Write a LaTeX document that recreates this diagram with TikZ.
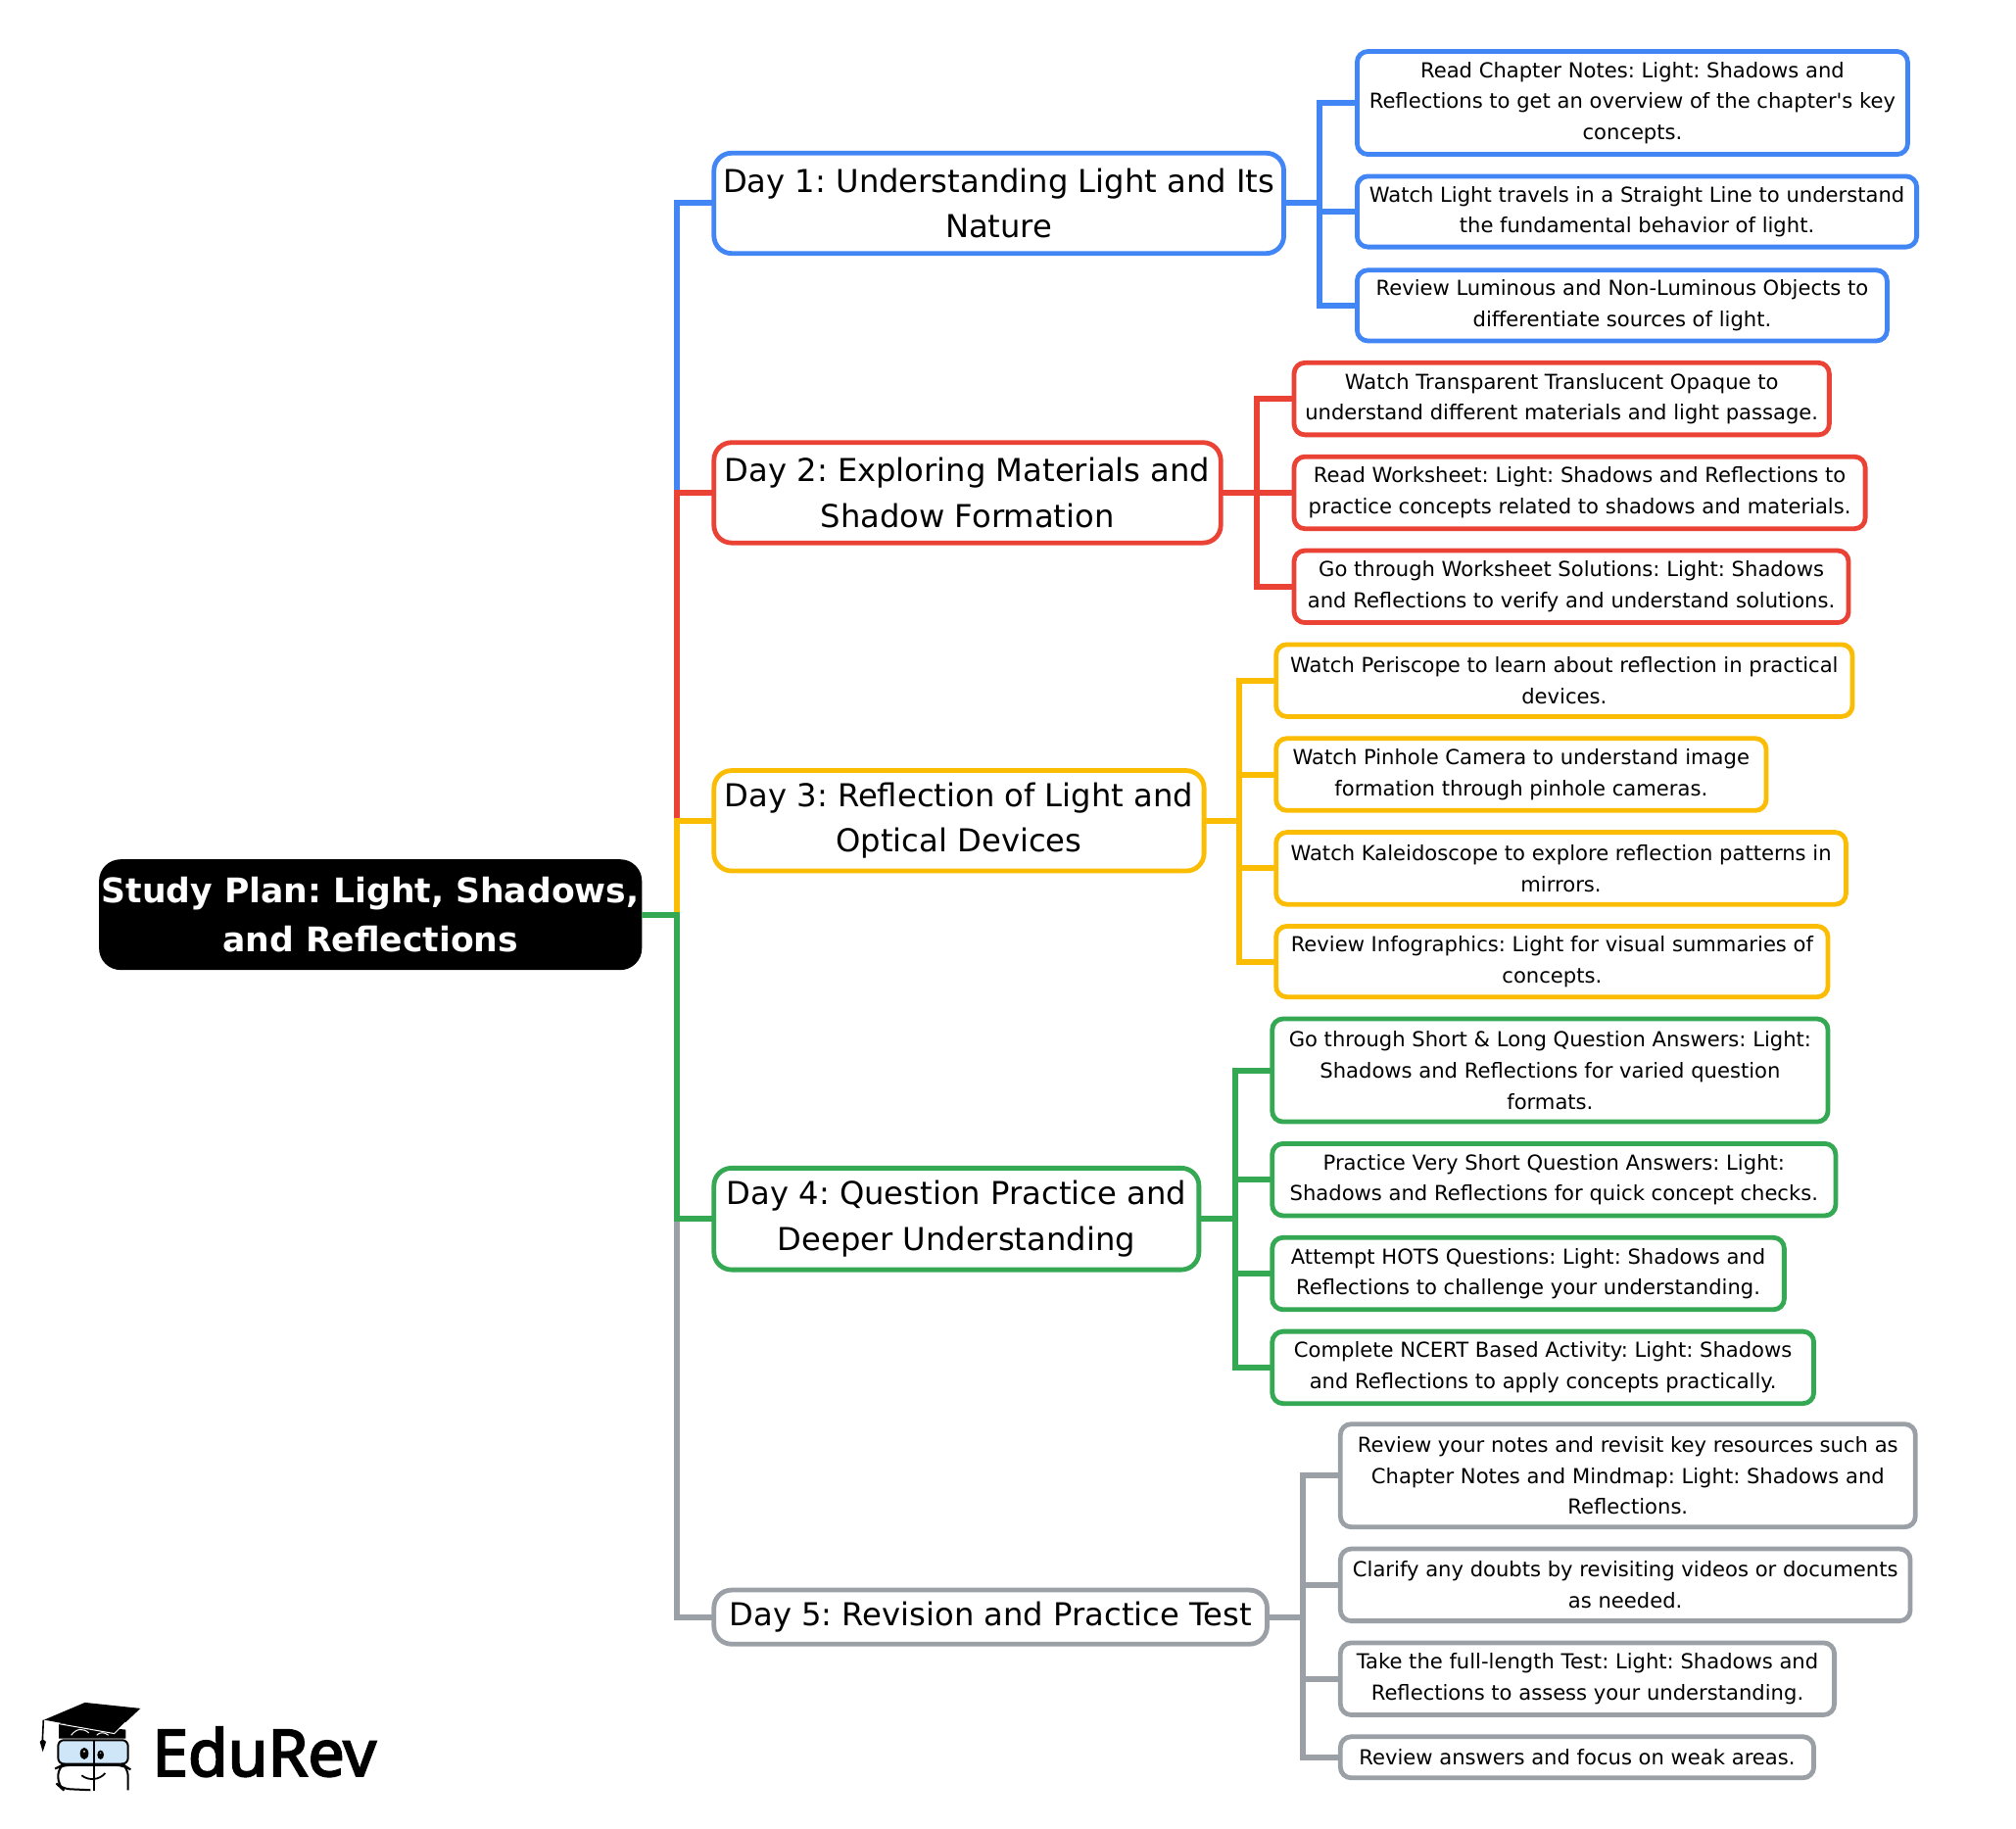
\documentclass[tikz,border=0pt]{standalone}
\usepackage{fontspec}
\setmainfont{DejaVu Sans}
\newfontfamily\logofont{Noto Sans}[FakeBold=3]
\definecolor{eblue}{HTML}{4285F4}
\definecolor{ered}{HTML}{EA4335}
\definecolor{eyellow}{HTML}{FBBC04}
\definecolor{egreen}{HTML}{34A853}
\definecolor{egrey}{HTML}{9AA0A6}
\definecolor{eglass}{HTML}{CFE6F8}
\tikzset{
    rootbox/.style={fill=black, text=white, rounded corners=11pt, inner sep=0pt, outer sep=0pt, align=center, font=\fontsize{17.3}{25.3}\selectfont\bfseries},
    daybox/.style={draw, fill=white, line width=2.4pt, rounded corners=9pt, inner sep=0pt, outer sep=0pt, align=center, font=\fontsize{16.1}{23.2}\selectfont},
    leafbox/.style={draw, fill=white, line width=2.4pt, rounded corners=5.5pt, inner sep=0pt, outer sep=0pt, align=center, font=\fontsize{10.55}{15.8}\selectfont},
    link/.style={line width=3pt},
    size/.style n args={4}{minimum width={(#3-#1)*0.6566pt}, minimum height={(#4-#2)*0.6566pt}}
}
\begin{document}
\frenchspacing
\begin{tikzpicture}[x=0.6566pt, y=-0.6566pt]
    \useasboundingbox (0,0) rectangle (1567.2,1421.7);
    % main boxes
    \node[rootbox, size={77}{668}{499}{754}] (root) at (288,711) {Study Plan: Light, Shadows,\\and Reflections};
    \node[daybox, draw=eblue, size={555}{119}{998}{197}] (day1) at (776.5,158) {Day 1: Understanding Light and Its\\Nature};
    \node[daybox, draw=ered, size={555}{344}{949}{422}] (day2) at (752,383) {Day 2: Exploring Materials and\\Shadow Formation};
    \node[daybox, draw=eyellow, size={555}{599}{936}{677}] (day3) at (745.5,638) {Day 3: Reflection of Light and\\Optical Devices};
    \node[daybox, draw=egreen, size={555}{908}{932}{987}] (day4) at (743.5,947.5) {Day 4: Question Practice and\\Deeper Understanding};
    \node[daybox, draw=egrey, size={555}{1236}{985}{1278}] (day5) at (770,1257) {Day 5: Revision and Practice Test};
    % leaves, one loop per day
    \foreach \nm/\l/\t/\r/\b/\txt in {
        a1/1055/40/1483/120/{Read Chapter Notes: Light: Shadows and\\Reflections to get an overview of the chapter\textquotesingle s key\\concepts.},
        a2/1055/137/1490/192/{Watch Light travels in a Straight Line to understand\\the fundamental behavior of light.},
        a3/1055/210/1467/265/{Review Luminous and Non-Luminous Objects to\\differentiate sources of light.}}
        \node[leafbox, draw=eblue, size={\l}{\t}{\r}{\b}] (\nm) at ({(\l+\r)/2},{(\t+\b)/2}) {\txt};
    \foreach \nm/\l/\t/\r/\b/\txt in {
        b1/1006/282/1422/338/{Watch Transparent Translucent Opaque to\\understand different materials and light passage.},
        b2/1006/355/1450/411/{Read Worksheet: Light: Shadows and Reflections to\\practice concepts related to shadows and materials.},
        b3/1006/428/1437/484/{Go through Worksheet Solutions: Light: Shadows\\and Reflections to verify and understand solutions.}}
        \node[leafbox, draw=ered, size={\l}{\t}{\r}{\b}] (\nm) at ({(\l+\r)/2},{(\t+\b)/2}) {\txt};
    \foreach \nm/\l/\t/\r/\b/\txt in {
        c1/992/501/1440/557/{Watch Periscope to learn about reflection in practical\\devices.},
        c2/992/574/1373/630/{Watch Pinhole Camera to understand image\\formation through pinhole cameras.},
        c3/992/647/1435/703/{Watch Kaleidoscope to explore reflection patterns in\\mirrors.},
        c4/992/720/1421/775/{Review Infographics: Light for visual summaries of\\concepts.}}
        \node[leafbox, draw=eyellow, size={\l}{\t}{\r}{\b}] (\nm) at ({(\l+\r)/2},{(\t+\b)/2}) {\txt};
    \foreach \nm/\l/\t/\r/\b/\txt in {
        d1/989/792/1421/872/{Go through Short \& Long Question Answers: Light:\\Shadows and Reflections for varied question\\formats.},
        d2/989/889/1427/945/{Practice Very Short Question Answers: Light:\\Shadows and Reflections for quick concept checks.},
        d3/989/962/1387/1018/{Attempt HOTS Questions: Light: Shadows and\\Reflections to challenge your understanding.},
        d4/989/1035/1410/1091/{Complete NCERT Based Activity: Light: Shadows\\and Reflections to apply concepts practically.}}
        \node[leafbox, draw=egreen, size={\l}{\t}{\r}{\b}] (\nm) at ({(\l+\r)/2},{(\t+\b)/2}) {\txt};
    \foreach \nm/\l/\t/\r/\b/\txt in {
        e1/1042/1107/1489/1187/{Review your notes and revisit key resources such as\\Chapter Notes and Mindmap: Light: Shadows and\\Reflections.},
        e2/1042/1204/1485/1260/{Clarify any doubts by revisiting videos or documents\\as needed.},
        e3/1042/1277/1426/1333/{Take the full-length Test: Light: Shadows and\\Reflections to assess your understanding.},
        e4/1042/1350/1410/1382/{Review answers and focus on weak areas.}}
        \node[leafbox, draw=egrey, size={\l}{\t}{\r}{\b}] (\nm) at ({(\l+\r)/2},{(\t+\b)/2}) {\txt};
    % connectors
    \coordinate (trunk) at (526,0);
    \foreach \dy/\col in {day1/eblue, day2/ered, day3/eyellow, day5/egrey, day4/egreen}
        \draw[link, \col] (root.east) -| (trunk |- \dy.west) -- (\dy.west);
    \coordinate (busa) at (1026,0);
    \coordinate (busb) at (977,0);
    \coordinate (busc) at (963,0);
    \coordinate (busd) at (960,0);
    \coordinate (buse) at (1013,0);
    \foreach \nm in {a1,a2,a3}
        \draw[link, eblue] (day1.east) -| (busa |- \nm.west) -- (\nm.west);
    \foreach \nm in {b1,b2,b3}
        \draw[link, ered] (day2.east) -| (busb |- \nm.west) -- (\nm.west);
    \foreach \nm in {c1,c2,c3,c4}
        \draw[link, eyellow] (day3.east) -| (busc |- \nm.west) -- (\nm.west);
    \foreach \nm in {d1,d2,d3,d4}
        \draw[link, egreen] (day4.east) -| (busd |- \nm.west) -- (\nm.west);
    \foreach \nm in {e1,e2,e3,e4}
        \draw[link, egrey] (day5.east) -| (buse |- \nm.west) -- (\nm.west);
    % logo
    \node[anchor=base west, inner sep=0pt, font=\fontsize{33}{33}\selectfont\logofont] (brand) at (118,1380.6) {EduRev};
    \begin{scope}[shift={(0,1295)}, x=0.1667pt, y=-0.1667pt]
        \fill[black] (180,175) -- (180,222) -- (385,222) -- (385,195) -- cycle;
        \fill[black] (135,165) -- (260,112) -- (430,130) -- (350,205) -- cycle;
        \draw[white, line width=0.5pt] (140,170) -- (350,207) -- (385,172);
        \draw[black, line width=0.8pt] (133,165) -- (130,230);
        \fill[black] (122,232) -- (131,263) -- (141,232) -- (131,224) -- cycle;
        \draw[white, line width=0.5pt] (218,212) .. controls (235,190) and (255,190) .. (272,205);
        \draw[white, line width=0.5pt] (296,212) .. controls (305,202) and (320,202) .. (332,212);
        \draw[black, fill=eglass, line width=1pt, rounded corners=3pt] (178,227) rectangle (392,300);
        \draw[black, line width=1pt, rounded corners=4pt] (277,380) -- (190,376) -- (178,365) -- (178,310) -- (190,304) -- (380,304) -- (392,312) -- (392,380);
        \draw[black, line width=1pt] (287,225) -- (287,382);
        \fill[black] (258,268) ellipse [x radius=13, y radius=18];
        \fill[black] (308,272) ellipse [x radius=10, y radius=14];
        \fill[white] (258,262) circle (3) (308,266) circle (2);
        \draw[black, line width=0.9pt] (250,335) .. controls (270,352) and (305,350) .. (322,328);
    \end{scope}
\end{tikzpicture}
\end{document}
